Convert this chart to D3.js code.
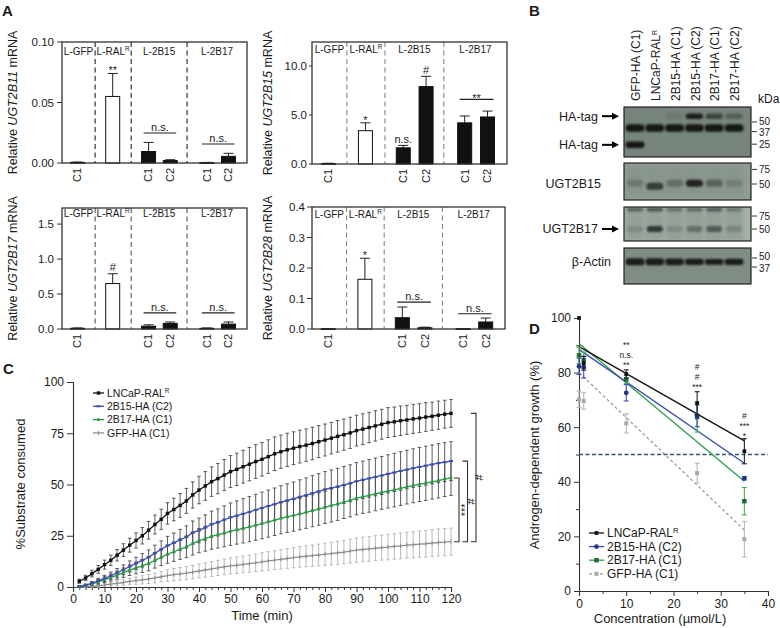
<!DOCTYPE html>
<html>
<head>
<meta charset="utf-8">
<script src="https://cdn.jsdelivr.net/npm/d3@7/dist/d3.min.js"></script>
<style>
html,body{margin:0;padding:0;background:#fff;}
svg{display:block;}
text{font-family:"Liberation Sans",Arial,Helvetica,sans-serif;fill:#1a1a1a;}
</style>
</head>
<body>
<svg id="fig" width="780" height="628" viewBox="0 0 780 628"></svg>
<script>
// ================= PANEL A DATA =================
const aGroupNames = ["L-GFP", "L-RAL", "L-2B15", "L-2B17"];
const aBarTicks = ["C1", "", "C1", "C2", "C1", "C2"];
const aBarGroup = [0, 1, 2, 2, 3, 3];
const aBarSlot = [0.84, 2.74, 4.68, 5.85, 7.83, 9.0];
const aDividers = [1.79, 3.74, 6.76];

const b11Mean = [0.0005, 0.055, 0.0095, 0.002, 0.0003, 0.0055];
const b11Err  = [0.0003, 0.019, 0.0075, 0.0007, 0.0002, 0.0025];
const b15Mean = [0.05, 3.4, 1.65, 7.9, 4.2, 4.8];
const b15Err  = [0.03, 0.8, 0.25, 1.05, 0.7, 0.6];
const b17Mean = [0.01, 0.65, 0.04, 0.08, 0.01, 0.07];
const b17Err  = [0.005, 0.14, 0.02, 0.02, 0.005, 0.03];
const b28Mean = [0.001, 0.163, 0.037, 0.004, 0.001, 0.023];
const b28Err  = [0.0005, 0.069, 0.035, 0.002, 0.0005, 0.013];

const b11Ticks = [0, 0.05, 0.10];
const b15Ticks = [0, 5, 10];
const b17Ticks = [0, 0.5, 1.0, 1.5];
const b28Ticks = [0, 0.1, 0.2, 0.3, 0.4];

// ================= PANEL B DATA =================
const laneNames = ["GFP-HA (C1)", "LNCaP-RAL", "2B15-HA (C1)", "2B15-HA (C2)", "2B17-HA (C1)", "2B17-HA (C2)"];
const blotRowNames = ["HA-tag", "HA-tag", "UGT2B15", "UGT2B17", "β-Actin"];
const haUpperBand = [0, 0, 0.1, 0.95, 0.6, 0.35];   // ~60 kDa
const haMainBand  = [1, 1, 1, 1, 1, 1];            // ~41 kDa
const haGfpBand   = [1, 0, 0, 0, 0, 0];            // ~25 kDa
const b15Band     = [0.22, 0.7, 0.3, 0.9, 0.4, 0.18];
const b17TopBand  = [0.45, 0.55, 0.35, 0.4, 0.5, 0.3];
const b17Band     = [0.15, 0.75, 0.15, 0.35, 0.5, 0.2];
const actinBand   = [1, 1, 0.95, 0.85, 0.72, 0.85];
const markersHA = [50, 37, 25];
const markers15 = [75, 50];
const markers17 = [75, 50];
const markersActin = [50, 37];

// ================= PANEL C DATA =================
const cTime = [2,4,6,8,10,12,14,16,18,20,22,24,26,28,30,32,34,36,38,40,42,44,46,48,50,52,54,56,58,60,
  62,64,66,68,70,72,74,76,78,80,82,84,86,88,90,92,94,96,98,100,102,104,106,108,110,112,114,116,118,120];
const cRal = [2.8,4.4,6.5,8.6,10.9,13.0,15.5,18.0,20.4,22.7,25.0,27.7,30.5,33.0,35.9,37.8,39.8,42.0,44.9,47.3,
  49.3,51.4,52.9,54.6,56.3,57.4,58.7,59.9,61.2,62.3,63.6,65.0,66.0,66.9,67.7,68.5,69.2,70.0,70.9,71.7,
  72.6,73.5,74.3,75.2,76.3,77.0,77.8,78.6,79.4,80.2,80.6,81.1,81.5,82.0,82.4,82.9,83.3,83.8,84.3,84.7];
const cRalErr = [1.0,1.3,1.6,1.9,2.2,2.5,2.8,3.1,3.4,3.7,4.0,4.3,4.6,4.9,5.2,5.5,5.8,6.1,6.4,6.7,
  7.0,7.2,7.4,7.6,7.8,7.9,8.0,8.1,8.2,8.2,8.2,8.2,8.1,8.1,8.0,8.0,7.9,7.9,7.8,7.8,
  7.7,7.7,7.6,7.6,7.5,7.5,7.4,7.4,7.3,7.3,7.2,7.2,7.1,7.1,7.0,7.0,6.9,6.9,6.8,6.8];
const c2b15 = [0.3,0.9,1.8,3.0,4.2,5.5,6.9,8.4,10.0,11.5,13.0,14.5,16.5,18.3,20.2,21.5,23.0,24.4,26.5,27.6,
  29.0,30.6,31.5,32.8,34.0,34.8,35.7,36.6,37.6,38.6,39.5,40.4,41.4,42.2,43.0,44.0,44.8,45.8,46.7,47.6,
  48.3,49.0,49.8,50.6,51.6,52.3,53.0,53.7,54.4,55.2,55.9,56.6,57.3,58.0,58.6,59.2,59.8,60.4,60.9,61.4];
const c2b15Err = [0.4,0.6,0.9,1.2,1.5,1.8,2.1,2.4,2.7,3.0,3.3,3.6,3.9,4.2,4.5,4.8,5.1,5.4,5.7,6.0,
  6.2,6.4,6.6,6.8,7.0,7.2,7.4,7.5,7.6,7.7,7.8,7.9,8.0,8.1,8.2,8.3,8.4,8.5,8.6,8.7,
  8.8,8.9,9.0,9.0,9.1,9.1,9.2,9.2,9.3,9.3,9.3,9.4,9.4,9.4,9.5,9.5,9.5,9.5,9.5,9.5];
const c2b17 = [0.2,0.7,1.5,2.5,3.6,4.6,5.8,7.0,8.2,9.3,10.3,11.4,13.0,14.5,16.0,17.2,18.5,19.6,21.2,22.6,
  23.6,24.7,25.5,26.3,27.2,27.9,28.6,29.3,30.1,30.9,31.8,32.6,33.5,34.2,34.9,35.6,36.4,37.2,38.0,38.9,
  39.7,40.5,41.4,42.3,43.3,44.0,44.7,45.4,46.1,46.8,47.4,48.1,48.8,49.5,50.1,50.7,51.3,51.9,52.6,53.2];
const c2b17Err = [0.4,0.6,0.8,1.1,1.4,1.7,2.0,2.3,2.6,2.9,3.2,3.5,3.8,4.1,4.4,4.7,5.0,5.3,5.6,5.9,
  6.1,6.3,6.5,6.7,6.9,7.0,7.1,7.2,7.3,7.4,7.5,7.5,7.6,7.6,7.7,7.7,7.8,7.8,7.9,7.9,
  8.0,8.0,8.0,8.1,8.1,8.1,8.2,8.2,8.2,8.3,8.3,8.3,8.3,8.4,8.4,8.4,8.4,8.5,8.5,8.5];
const cGfp = [0.0,0.1,0.3,0.6,1.0,1.4,1.8,2.2,2.7,3.1,3.5,3.9,4.4,5.0,5.6,6.0,6.4,6.8,7.3,7.8,
  8.3,8.8,9.3,9.8,10.3,10.6,11.0,11.4,11.8,12.3,12.7,13.1,13.5,13.9,14.3,14.7,15.0,15.3,15.6,16.0,
  16.3,16.7,17.0,17.5,18.0,18.3,18.6,18.9,19.2,19.5,19.8,20.1,20.4,20.6,20.9,21.1,21.4,21.7,21.9,22.1];
const cGfpErr = [0.2,0.3,0.4,0.6,0.8,1.0,1.2,1.4,1.6,1.8,2.0,2.2,2.4,2.6,2.8,3.0,3.1,3.2,3.3,3.4,
  3.5,3.6,3.7,3.8,3.9,4.0,4.1,4.2,4.3,4.4,4.5,4.6,4.7,4.8,4.9,5.0,5.1,5.2,5.3,5.4,
  5.5,5.6,5.7,5.8,5.9,6.0,6.0,6.1,6.1,6.2,6.2,6.3,6.3,6.4,6.4,6.5,6.5,6.6,6.6,6.6];
const cSeriesNames = ["LNCaP-RAL", "2B15-HA (C2)", "2B17-HA (C1)", "GFP-HA (C1)"];
const cBracketText = ["***", "#", "#"];

// ================= PANEL D DATA =================
const dConc = [0, 1, 10, 25, 35];
const dRal = [100, 83.4, 79.5, 68.8, 51.2];
const dRalErr = [0, 2.5, 1.5, 4.2, 4.6];
const d2b15 = [82.3, 82.0, 72.6, 64.2, 41.3];
const d2b15Err = [3.0, 4.0, 3.0, 4.0, 0.6];
const d2b17 = [86.3, 84.5, 77.5, 63.7, 32.9];
const d2b17Err = [3.0, 3.0, 1.5, 5.5, 5.0];
const dGfp = [70.2, 69.6, 61.4, 43.2, 19.0];
const dGfpErr = [3.0, 3.0, 3.5, 3.6, 6.5];
const dFitStart = [89.5, 88.5, 90.7, 80.0];
const dFitEnd = [55.0, 46.8, 40.2, 22.3];
const dThreshold = 50;
const dSigConc = [10, 25, 35];
const dSigText = [["**", "n.s.", "**"], ["#", "#", "***"], ["#", "***", "*"]];
const dSigLevel = [[89.0, 85.35, 81.7], [80.95, 77.3, 73.6], [63.0, 59.3, 55.7]]; // baseline levels

// ================= DRAWING =================
const svg = d3.select("#fig");
const defs = svg.append("defs");
defs.append("filter").attr("id", "blur").attr("x", "-50%").attr("y", "-100%").attr("width", "200%").attr("height", "300%")
  .append("feGaussianBlur").attr("stdDeviation", 1.1);
defs.append("filter").attr("id", "blur2").attr("x", "-50%").attr("y", "-100%").attr("width", "200%").attr("height", "300%")
  .append("feGaussianBlur").attr("stdDeviation", 2.2);

function panelLabel(x, y, t) {
  svg.append("text").attr("x", x).attr("y", y).attr("font-size", 15).attr("font-weight", "bold").attr("fill", "#000").text(t);
}
function glyphBottomOffset(str, fs) {
  return /^\*+$/.test(str) ? 0.43 * fs : 0;
}

panelLabel(2, 16, "A");
panelLabel(529, 16, "B");
panelLabel(3, 374, "C");
panelLabel(529, 334, "D");

// ---------- Panel A ----------
function barPanel(cfg) {
  const g = svg.append("g");
  const x = d3.scaleLinear().domain([0, 10]).range([cfg.left, cfg.right]);
  const y = d3.scaleLinear().domain([0, cfg.ymax]).range([cfg.bottom, cfg.top]);
  const bw = 14;
  aDividers.forEach(d => {
    g.append("line").attr("x1", x(d)).attr("x2", x(d)).attr("y1", cfg.top).attr("y2", cfg.bottom)
      .attr("stroke", cfg.dash).attr("stroke-width", 1.1).attr("stroke-dasharray", "5,3.5");
  });
  const bounds = [0, ...aDividers, 10];
  aGroupNames.forEach((nm, i) => {
    const t = g.append("text").attr("x", x((bounds[i] + bounds[i + 1]) / 2)).attr("y", cfg.top + cfg.labelDy)
      .attr("text-anchor", "middle").attr("font-size", 10);
    t.append("tspan").text(nm);
    if (i === 1) t.append("tspan").attr("dy", -4).attr("font-size", 6.5).text("R");
  });
  cfg.mean.forEach((m, i) => {
    const cx = x(aBarSlot[i]);
    const top = y(m + cfg.err[i]);
    g.append("line").attr("x1", cx).attr("x2", cx).attr("y1", y(m)).attr("y2", top).attr("stroke", "#222").attr("stroke-width", 1);
    g.append("line").attr("x1", cx - 5).attr("x2", cx + 5).attr("y1", top).attr("y2", top).attr("stroke", "#222").attr("stroke-width", 1);
    g.append("rect").attr("x", cx - bw / 2).attr("y", y(m)).attr("width", bw).attr("height", Math.max(0.8, y(0) - y(m)))
      .attr("fill", aBarGroup[i] === 1 ? "#fff" : "#111").attr("stroke", "#111").attr("stroke-width", 1);
  });
  g.append("rect").attr("x", cfg.left).attr("y", cfg.top).attr("width", cfg.right - cfg.left).attr("height", cfg.bottom - cfg.top)
    .attr("fill", "none").attr("stroke", "#333").attr("stroke-width", 1.3);
  cfg.ticks.forEach(v => {
    g.append("line").attr("x1", cfg.left - cfg.tickLen).attr("x2", cfg.left).attr("y1", y(v)).attr("y2", y(v)).attr("stroke", "#333");
    g.append("text").attr("x", cfg.left - cfg.labelGap).attr("y", y(v)).attr("dy", "0.35em").attr("text-anchor", "end")
      .attr("font-size", 11.5).text(cfg.fmt(v));
  });
  aBarTicks.forEach((t, i) => {
    if (!t) return;
    const cx = x(aBarSlot[i]);
    g.append("text").attr("transform", `translate(${cx},${cfg.bottom + 5}) rotate(-90)`).attr("dy", "0.35em")
      .attr("text-anchor", "end").attr("font-size", 11).text(t);
  });
  const tt = g.append("text").attr("transform", `translate(${cfg.titleX},${(cfg.top + cfg.bottom) / 2}) rotate(-90)`)
    .attr("dy", "0.35em").attr("text-anchor", "middle").attr("font-size", 12.5);
  tt.append("tspan").text("Relative ");
  tt.append("tspan").attr("font-style", "italic").text(cfg.gene);
  tt.append("tspan").text(" mRNA");
  cfg.stars.forEach(s => {
    const cx = x(aBarSlot[s.bar]);
    const top = y(cfg.mean[s.bar] + cfg.err[s.bar]);
    const fs = 11;
    const gap = /^\*+$/.test(s.text) ? 4 : 2.5;
    g.append("text").attr("x", cx).attr("y", top - gap + glyphBottomOffset(s.text, fs)).attr("text-anchor", "middle")
      .attr("font-size", fs).text(s.text);
  });
  cfg.lines.forEach(l => {
    const xa = x(aBarSlot[l.from]) - 5, xb = x(aBarSlot[l.to]) + 6;
    const ly = y(l.value);
    g.append("line").attr("x1", xa).attr("x2", xb).attr("y1", ly).attr("y2", ly).attr("stroke", "#222").attr("stroke-width", 1.2);
    const fs = 11;
    g.append("text").attr("x", (xa + xb) / 2).attr("y", ly - 2 + glyphBottomOffset(l.text, fs)).attr("text-anchor", "middle")
      .attr("font-size", fs).text(l.text);
  });
}

barPanel({gene: "UGT2B11", mean: b11Mean, err: b11Err, ymax: 0.1, ticks: b11Ticks, fmt: d3.format(".2f"),
  left: 62, right: 247, top: 42, bottom: 163, titleX: 13, labelDy: 12.5, dash: "#222", tickLen: 5, labelGap: 8,
  stars: [{bar: 1, text: "**"}], lines: [{from: 2, to: 3, value: 0.0248, text: "n.s."}, {from: 4, to: 5, value: 0.0157, text: "n.s."}]});
barPanel({gene: "UGT2B15", mean: b15Mean, err: b15Err, ymax: 12.45, ticks: b15Ticks, fmt: d3.format(".1f"),
  left: 312, right: 507, top: 42, bottom: 164, titleX: 268, labelDy: 11, dash: "#888", tickLen: 3, labelGap: 5,
  stars: [{bar: 1, text: "*"}, {bar: 2, text: "n.s."}, {bar: 3, text: "#"}], lines: [{from: 4, to: 5, value: 6.6, text: "**"}]});
barPanel({gene: "UGT2B17", mean: b17Mean, err: b17Err, ymax: 1.73, ticks: b17Ticks, fmt: d3.format(".1f"),
  left: 62, right: 247, top: 208, bottom: 329, titleX: 13, labelDy: 9, dash: "#555", tickLen: 5, labelGap: 8,
  stars: [{bar: 1, text: "#"}], lines: [{from: 2, to: 3, value: 0.23, text: "n.s."}, {from: 4, to: 5, value: 0.23, text: "n.s."}]});
barPanel({gene: "UGT2B28", mean: b28Mean, err: b28Err, ymax: 0.4, ticks: b28Ticks, fmt: d3.format(".1f"),
  left: 312, right: 505, top: 207, bottom: 329, titleX: 268, labelDy: 11, dash: "#888", tickLen: 5, labelGap: 7,
  stars: [{bar: 1, text: "*"}], lines: [{from: 2, to: 3, value: 0.088, text: "n.s."}, {from: 4, to: 5, value: 0.05, text: "n.s."}]});

// ---------- Panel B ----------
(function () {
  const g = svg.append("g");
  const laneX = d3.scalePoint().domain(d3.range(6)).range([635, 734]);
  const bx0 = 624, bx1 = 751;
  const boxes = [
    {y0: 107, y1: 157, y50: 122, k: 32, bg: "#77847c"},
    {y0: 163, y1: 200, y50: 184, k: 36, bg: "#8f9c94"},
    {y0: 207, y1: 241, y50: 229, k: 32, bg: "#a6b1aa"},
    {y0: 248, y1: 284, y50: 258, k: 30, bg: "#808d85"}
  ];
  boxes.forEach(b => { b.mw = d3.scaleLog().domain([50, 100]).range([b.y50, b.y50 - b.k * Math.LN2]); });

  laneNames.forEach((nm, i) => {
    const t = g.append("text").attr("transform", `translate(${laneX(i) + 1},101) rotate(-90)`).attr("dy", "0.35em")
      .attr("font-size", 12).attr("text-anchor", "start");
    t.append("tspan").text(nm);
    if (i === 1) t.append("tspan").attr("dy", "-0.5em").attr("font-size", 7).text("R");
  });
  g.append("text").attr("x", 758).attr("y", 103).attr("font-size", 12).text("kDa");

  boxes.forEach((b, bi) => {
    const bg = g.append("g");
    bg.append("rect").attr("x", bx0).attr("y", b.y0).attr("width", bx1 - bx0).attr("height", b.y1 - b.y0).attr("fill", b.bg);
    const clipId = "clip" + bi;
    defs.append("clipPath").attr("id", clipId).append("rect").attr("x", bx0).attr("y", b.y0).attr("width", bx1 - bx0).attr("height", b.y1 - b.y0);
    b.g = bg.append("g").attr("clip-path", `url(#${clipId})`);
  });
  function band(b, i, kda, alpha, w, h) {
    if (alpha <= 0) return;
    b.g.append("rect").attr("x", laneX(i) - w / 2).attr("y", b.mw(kda) - h / 2).attr("width", w).attr("height", h)
      .attr("rx", h / 2).attr("fill", "#121714").attr("opacity", alpha).attr("filter", "url(#blur)");
  }
  laneNames.forEach((_, i) => {
    boxes[2].g.append("rect").attr("x", laneX(i) - 9).attr("y", boxes[2].y0).attr("width", 18).attr("height", boxes[2].y1 - boxes[2].y0)
      .attr("fill", "#4a564f").attr("opacity", 0.18).attr("filter", "url(#blur2)");
    boxes[1].g.append("rect").attr("x", laneX(i) - 9).attr("y", boxes[1].y0 + 4).attr("width", 18).attr("height", boxes[1].y1 - boxes[1].y0 - 8)
      .attr("fill", "#5a665f").attr("opacity", 0.12).attr("filter", "url(#blur2)");
  });
  haUpperBand.forEach((a, i) => band(boxes[0], i, 60, a, 17, 5.5));
  haMainBand.forEach((a, i) => band(boxes[0], i, 41.5, a, 19, 7.5));
  haGfpBand.forEach((a, i) => band(boxes[0], i, 24.5, a, 19, 6.5));
  b15Band.forEach((a, i) => band(boxes[1], i, i === 1 ? 47 : 51, a, 17, 7));
  b17TopBand.forEach((a, i) => band(boxes[2], i, 92, a, 16, 4));
  b17Band.forEach((a, i) => band(boxes[2], i, 50, a, 16, 6));
  actinBand.forEach((a, i) => band(boxes[3], i, 44, 0.95, 19, 3 + 4 * a));

  boxes.forEach(b => {
    g.append("rect").attr("x", bx0).attr("y", b.y0).attr("width", bx1 - bx0).attr("height", b.y1 - b.y0)
      .attr("fill", "none").attr("stroke", "#222").attr("stroke-width", 1.2);
  });
  const markerSets = [markersHA, markers15, markers17, markersActin];
  const mfs = 10, minGap = 11.4;
  markerSets.forEach((ms, bi) => {
    const ys = ms.map(m => boxes[bi].mw(m));
    // spread labels that sit too close together (ticks stay at true positions)
    const ly = ys.slice();
    for (let it = 0; it < 4; it++) {
      for (let j = 1; j < ly.length; j++) {
        const d = ly[j] - ly[j - 1];
        if (d < minGap) { const push = (minGap - d) / 2; ly[j - 1] -= push; ly[j] += push; }
      }
    }
    ms.forEach((m, j) => {
      g.append("line").attr("x1", bx1 + 1).attr("x2", bx1 + 6).attr("y1", ys[j]).attr("y2", ys[j]).attr("stroke", "#333");
      g.append("text").attr("x", bx1 + 8).attr("y", ly[j]).attr("dy", "0.35em").attr("font-size", mfs).text(m);
    });
  });
  const rowY = [boxes[0].mw(60), boxes[0].mw(24.5), boxes[1].mw(51), boxes[2].mw(50), boxes[3].mw(44)];
  const rowArrow = [true, true, false, true, false];
  const rowEnd = [598, 598, 601, 598, 611];
  blotRowNames.forEach((nm, i) => {
    g.append("text").attr("x", rowEnd[i]).attr("y", rowY[i]).attr("dy", "0.35em").attr("text-anchor", "end")
      .attr("font-size", 12.5).text(nm);
    if (rowArrow[i]) {
      g.append("line").attr("x1", 602).attr("x2", 613).attr("y1", rowY[i]).attr("y2", rowY[i]).attr("stroke", "#000").attr("stroke-width", 2);
      g.append("path").attr("d", `M612,${rowY[i] - 3.5}L619,${rowY[i]}L612,${rowY[i] + 3.5}Z`).attr("fill", "#000");
    }
  });
})();

// ---------- Panel C ----------
(function () {
  const g = svg.append("g");
  const x = d3.scaleLinear().domain([0, 120]).range([73, 451]);
  const y = d3.scaleLinear().domain([0, 100]).range([587, 382]);
  const ya = g.append("g").attr("transform", "translate(73,0)")
    .call(d3.axisLeft(y).tickValues([0, 25, 50, 75, 100]).tickSize(6).tickPadding(3));
  const xa = g.append("g").attr("transform", "translate(0,587)")
    .call(d3.axisBottom(x).tickValues(d3.range(0, 121, 10)).tickSize(5).tickPadding(2));
  g.append("g").attr("transform", "translate(0,587)")
    .call(d3.axisBottom(x).tickValues(d3.range(0, 121, 2).filter(v => v % 10)).tickSize(3).tickFormat(""))
    .select(".domain").remove();
  [ya, xa].forEach(a => {
    a.selectAll("path.domain").attr("stroke", "#333").attr("stroke-width", 1.1);
    a.selectAll(".tick text").attr("font-size", 12).attr("fill", "#1a1a1a").attr("font-family", '"Liberation Sans",Arial,sans-serif');
  });
  g.selectAll(".tick line").attr("stroke", "#333");
  g.append("text").attr("x", 262).attr("y", 620).attr("text-anchor", "middle").attr("font-size", 13).text("Time (min)");
  g.append("text").attr("transform", "translate(20,484) rotate(-90)").attr("dy", "0.35em").attr("text-anchor", "middle")
    .attr("font-size", 13).text("%Substrate consumed");

  const series = [
    {v: cGfp, e: cGfpErr, c: "#8c8c8c", ec: "#b4b4b4", m: "plus"},
    {v: c2b17, e: c2b17Err, c: "#2a9a45", ec: "#4a4a4a", m: "sq"},
    {v: c2b15, e: c2b15Err, c: "#3c4fae", ec: "#4a4a4a", m: "dash"},
    {v: cRal, e: cRalErr, c: "#111", ec: "#4a4a4a", m: "sqb"}
  ];
  series.forEach(s => {
    const eg = g.append("g").attr("stroke", s.ec).attr("stroke-width", 0.9);
    cTime.forEach((t, i) => {
      const xx = x(t);
      eg.append("line").attr("x1", xx).attr("x2", xx).attr("y1", y(s.v[i] - s.e[i])).attr("y2", y(s.v[i] + s.e[i]));
      eg.append("line").attr("x1", xx - 1.8).attr("x2", xx + 1.8).attr("y1", y(s.v[i] + s.e[i])).attr("y2", y(s.v[i] + s.e[i]));
      eg.append("line").attr("x1", xx - 1.8).attr("x2", xx + 1.8).attr("y1", y(s.v[i] - s.e[i])).attr("y2", y(s.v[i] - s.e[i]));
    });
  });
  function drawCMarker(gg, xx, yy, s) {
    if (s.m === "sqb") gg.append("rect").attr("x", xx - 1.7).attr("y", yy - 1.7).attr("width", 3.4).attr("height", 3.4).attr("fill", s.c);
    else if (s.m === "sq") gg.append("rect").attr("x", xx - 1.3).attr("y", yy - 1.3).attr("width", 2.6).attr("height", 2.6).attr("fill", s.c);
    else if (s.m === "dash") gg.append("rect").attr("x", xx - 2).attr("y", yy - 1).attr("width", 4).attr("height", 2).attr("fill", s.c);
    else gg.append("line").attr("x1", xx).attr("x2", xx).attr("y1", yy - 2).attr("y2", yy + 2).attr("stroke", s.c).attr("stroke-width", 1);
  }
  series.forEach(s => {
    g.append("path").datum(cTime.map((t, i) => [t, s.v[i]]))
      .attr("d", d3.line().x(d => x(d[0])).y(d => y(d[1]))).attr("fill", "none").attr("stroke", s.c).attr("stroke-width", 1.3);
    cTime.forEach((t, i) => drawCMarker(g, x(t), y(s.v[i]), s));
  });
  const legOrder = [3, 2, 1, 0];
  legOrder.forEach((si, k) => {
    const s = series[si];
    const ly = 393 + k * 13.3;
    g.append("line").attr("x1", 93).attr("x2", 104).attr("y1", ly).attr("y2", ly).attr("stroke", s.c).attr("stroke-width", 1.3);
    drawCMarker(g, 98.5, ly, s);
    const t = g.append("text").attr("x", 107).attr("y", ly).attr("dy", "0.35em").attr("font-size", 10.5);
    t.append("tspan").text(cSeriesNames[k]);
    if (k === 0) t.append("tspan").attr("dy", "-0.5em").attr("font-size", 6.5).text("R");
  });
  const last = cTime.length - 1;
  const ends = [c2b17[last], c2b15[last], cRal[last]];
  const bottomY = y(cGfp[last]);
  ends.forEach((v, k) => {
    const bxx = x(120) + 8 + k * 8.5;
    const ty = y(v);
    g.append("path").attr("d", `M${bxx - 5},${ty}H${bxx}V${bottomY}H${bxx - 5}`).attr("fill", "none").attr("stroke", "#333").attr("stroke-width", 1.1);
    const str = cBracketText[k];
    const fs = 11;
    const off = /^\*+$/.test(str) ? 0.6 : 0.36;
    g.append("text").attr("transform", `translate(${bxx + 3.5 + off * fs},${(ty + bottomY) / 2}) rotate(-90)`)
      .attr("text-anchor", "middle").attr("font-size", fs).text(str);
  });
})();

// ---------- Panel D ----------
(function () {
  const g = svg.append("g");
  const x = d3.scaleLinear().domain([0, 40]).range([579, 768]);
  const y = d3.scaleLinear().domain([0, 100]).range([591, 318]);
  g.append("g").attr("transform", "translate(579,0)")
    .call(d3.axisLeft(y).tickValues([0, 20, 40, 60, 80, 100]).tickSize(5).tickPadding(3));
  g.append("g").attr("transform", "translate(579,0)")
    .call(d3.axisLeft(y).tickValues([10, 30, 50, 70, 90]).tickSize(3).tickFormat("")).select(".domain").remove();
  g.append("g").attr("transform", "translate(0,591)")
    .call(d3.axisBottom(x).tickValues([0, 10, 20, 30, 40]).tickSize(5).tickPadding(3));
  g.append("g").attr("transform", "translate(0,591)")
    .call(d3.axisBottom(x).tickValues([5, 15, 25, 35]).tickSize(3).tickFormat("")).select(".domain").remove();
  g.selectAll("path.domain").attr("stroke", "#333").attr("stroke-width", 1.1);
  g.selectAll(".tick line").attr("stroke", "#333");
  g.selectAll(".tick text").attr("font-size", 12).attr("fill", "#1a1a1a").attr("font-family", '"Liberation Sans",Arial,sans-serif');
  g.append("text").attr("x", 660).attr("y", 623).attr("text-anchor", "middle").attr("font-size", 13).text("Concentration (µmol/L)");
  g.append("text").attr("transform", "translate(534,455) rotate(-90)").attr("dy", "0.35em").attr("text-anchor", "middle")
    .attr("font-size", 13).text("Androgen-dependent growth (%)");

  g.append("line").attr("x1", x(0)).attr("x2", x(40)).attr("y1", y(dThreshold)).attr("y2", y(dThreshold))
    .attr("stroke", "#2d5878").attr("stroke-width", 1.3).attr("stroke-dasharray", "4,2.5");

  const series = [
    {v: dGfp, e: dGfpErr, c: "#9a9a9a", ec: "#b8b8b8", mc: "#a8a8a8", m: d3.symbolSquare, ms: 16, dash: "3,2.5", fit: 3},
    {v: d2b17, e: d2b17Err, c: "#2e9e48", ec: "#3fae5a", mc: "#1f6a37", m: d3.symbolSquare, ms: 20, dash: null, fit: 2},
    {v: d2b15, e: d2b15Err, c: "#3b4db2", ec: "#3b4db2", mc: "#22348a", m: d3.symbolCircle, ms: 18, dash: null, fit: 1},
    {v: dRal, e: dRalErr, c: "#111", ec: "#222", mc: "#111", m: d3.symbolSquare, ms: 14, dash: null, fit: 0}
  ];
  series.forEach(s => {
    g.append("line").attr("x1", x(0)).attr("x2", x(35)).attr("y1", y(dFitStart[s.fit])).attr("y2", y(dFitEnd[s.fit]))
      .attr("stroke", s.c).attr("stroke-width", 1.3).attr("stroke-dasharray", s.dash);
  });
  series.forEach(s => {
    dConc.forEach((c, i) => {
      const xx = x(c), hi = y(s.v[i] + s.e[i]), lo = y(s.v[i] - s.e[i]);
      if (s.e[i] > 0) {
        g.append("line").attr("x1", xx).attr("x2", xx).attr("y1", hi).attr("y2", lo).attr("stroke", s.ec).attr("stroke-width", 1.1);
        g.append("line").attr("x1", xx - 2.5).attr("x2", xx + 2.5).attr("y1", hi).attr("y2", hi).attr("stroke", s.ec).attr("stroke-width", 1.1);
        g.append("line").attr("x1", xx - 2.5).attr("x2", xx + 2.5).attr("y1", lo).attr("y2", lo).attr("stroke", s.ec).attr("stroke-width", 1.1);
      }
      g.append("path").attr("transform", `translate(${xx},${y(s.v[i])})`).attr("d", d3.symbol().type(s.m).size(s.ms)()).attr("fill", s.mc);
    });
  });
  dSigConc.forEach((c, i) => {
    dSigText[i].forEach((str, j) => {
      g.append("text").attr("x", x(c)).attr("y", y(dSigLevel[i][j])).attr("text-anchor", "middle")
        .attr("font-size", 8.5).attr("fill", "#333").text(str);
    });
  });
  const legNames = ["LNCaP-RAL", "2B15-HA (C2)", "2B17-HA (C1)", "GFP-HA (C1)"];
  const legOrder = [3, 2, 1, 0];
  legOrder.forEach((si, k) => {
    const s = series[si];
    const ly = 533 + k * 13.6;
    g.append("line").attr("x1", 589).attr("x2", 604).attr("y1", ly).attr("y2", ly).attr("stroke", s.c).attr("stroke-width", 1.3)
      .attr("stroke-dasharray", s.dash);
    g.append("path").attr("transform", `translate(596.5,${ly})`).attr("d", d3.symbol().type(s.m).size(s.ms)()).attr("fill", s.mc);
    const t = g.append("text").attr("x", 607).attr("y", ly).attr("dy", "0.35em").attr("font-size", 12);
    t.append("tspan").text(legNames[k]);
    if (k === 0) t.append("tspan").attr("dy", "-0.5em").attr("font-size", 7.5).text("R");
  });
})();
</script>
</body>
</html>
